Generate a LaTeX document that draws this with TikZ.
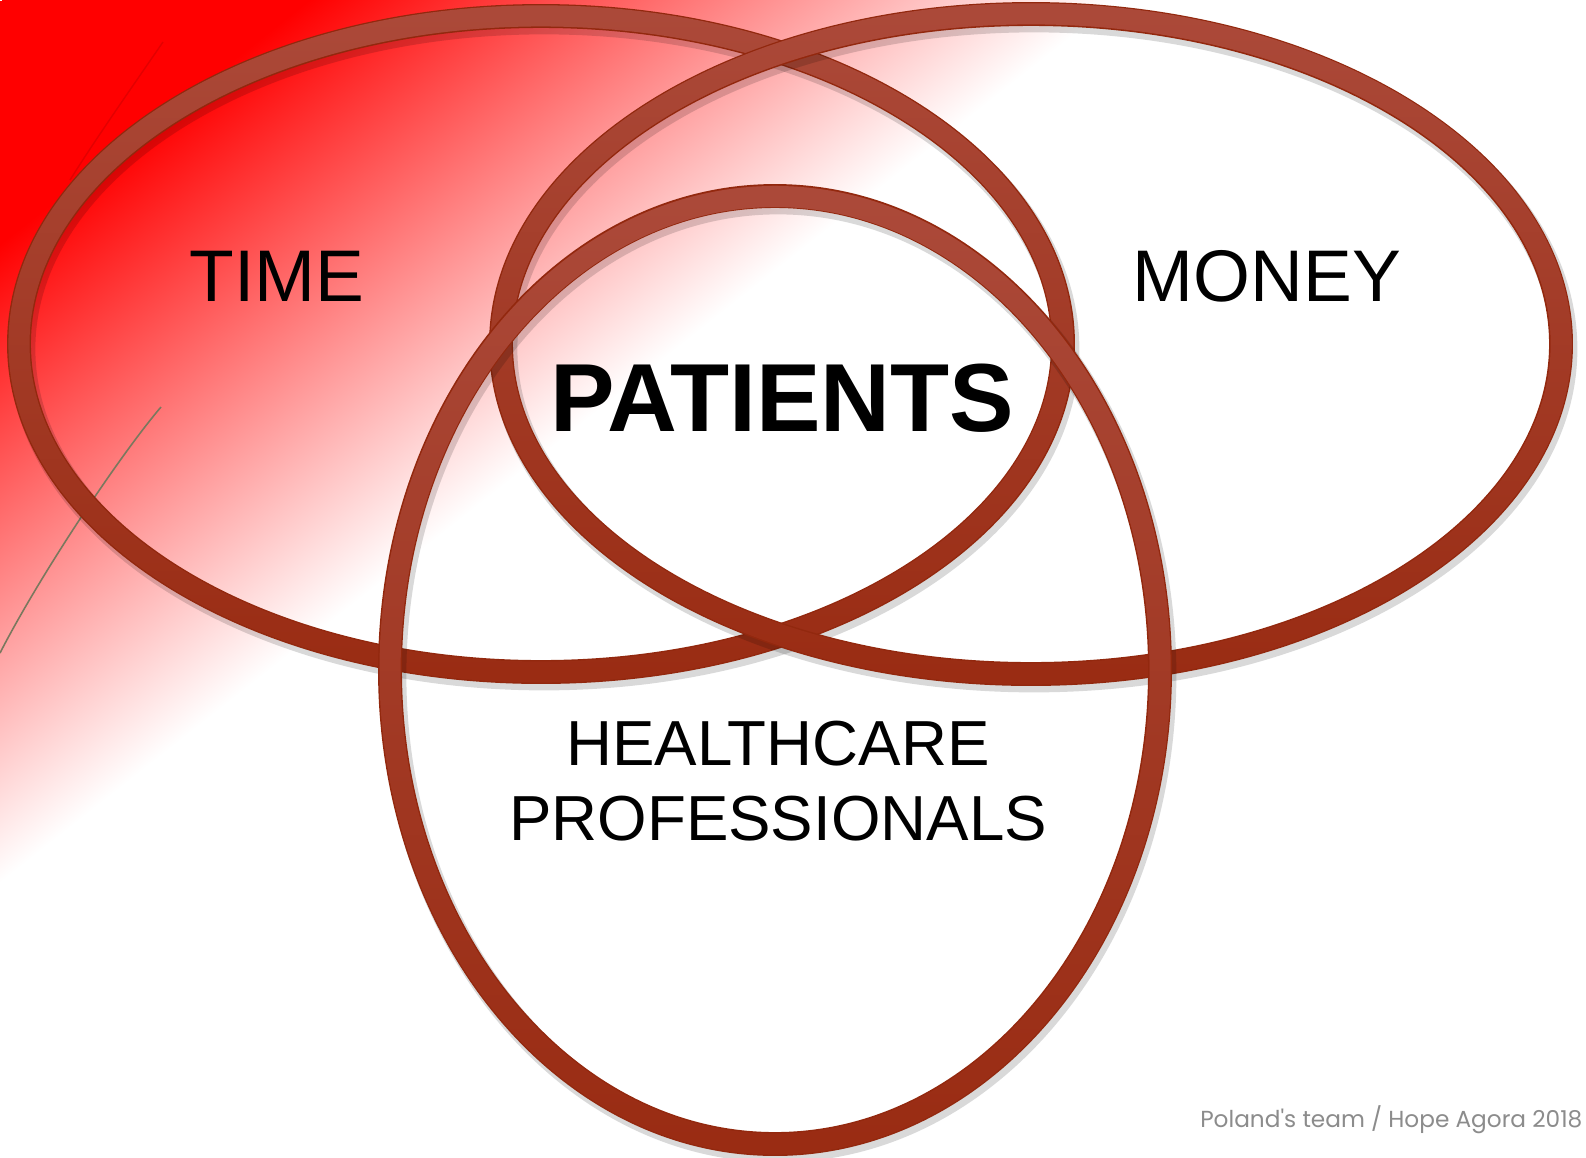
\documentclass[tikz,border=0pt]{standalone}
\usepackage{fontspec}
\setmainfont{Liberation Sans}
\newfontfamily\creditfont{Poppins}
\usepackage{tikz}
\usetikzlibrary{fadings}

\definecolor{ringtop}{RGB}{172,74,58}
\definecolor{ringbot}{RGB}{154,44,19}
\definecolor{ringrim}{RGB}{146,40,14}
\definecolor{stemcol}{RGB}{122,120,94}
\definecolor{creditgray}{RGB}{140,140,140}

% red corner fading to white
\pgfdeclarehorizontalshading{redcorner}{850bp}{color(0bp)=(red); color(54bp)=(red); color(196bp)=(white); color(567bp)=(white)}

% one ring: shadow, rim, dark body, light top
\newcommand{\vennring}[4]{%
  \draw[ringshadow] (#1+3,#2+5) ellipse [x radius=#3, y radius=#4];
  \draw[ringrim] (#1,#2) ellipse [x radius=#3, y radius=#4];
  \draw[ringbody] (#1,#2) ellipse [x radius=#3, y radius=#4];
  \draw[ringlight] (#1,#2) ellipse [x radius=#3, y radius=#4];
}

\begin{document}
\begin{tikzpicture}[x=0.01cm, y=-0.01cm,
    ringshadow/.style={draw=black, opacity=0.15, line width=7.6pt},
    ringrim/.style={draw=ringrim, line width=6.8pt},
    ringbody/.style={draw=ringbot, line width=6.0pt},
    ringlight/.style={draw=ringtop, line width=6.0pt, path fading=south},
    setname/.style={inner sep=0pt, font=\fontsize{20.8}{25}\selectfont},
    corename/.style={inner sep=0pt, font=\fontsize{27.5}{33}\selectfont\bfseries},
    carename/.style={inner sep=0pt, font=\fontsize{18.1}{22}\selectfont},
    creditname/.style={inner sep=0pt, text=creditgray, font=\creditfont\fontsize{6.6}{8}\selectfont}]
  \useasboundingbox (0,0) rectangle (1586,1157);
  % background
  \begin{scope}
    \clip (0,0) rectangle (1586,1157);
    \fill[white] (0,0) rectangle (1586,1157);
    \node[rotate=-51.7, anchor=west, inner sep=0pt] (bg) at (0,0) {\pgfuseshading{redcorner}};
  \end{scope}
  % thin stems behind the rings
  \draw[stemcol, line width=0.45pt] (161,407) .. controls (120,455) and (40,575) .. (0,653);
  \draw[red!70!black, opacity=0.35, line width=0.4pt] (163,42) .. controls (130,90) and (95,140) .. (70,180);
  % rings
  \vennring{541}{344}{522}{328}
  \vennring{1031}{344}{530}{330}
  \vennring{775}{670}{385}{474}
  % labels
  \node[setname] (time) at (277,276) {TIME};
  \node[setname] (money) at (1267,276) {MONEY};
  \node[corename] (patients) at (782,398) {PATIENTS};
  \node[carename] (care1) at (778,744) {HEALTHCARE};
  \node[carename] (care2) at (778,819) {PROFESSIONALS};
  \node[creditname, anchor=base east] (credit) at (1583,1127) {Poland's team / Hope Agora 2018};
\end{tikzpicture}
\end{document}
